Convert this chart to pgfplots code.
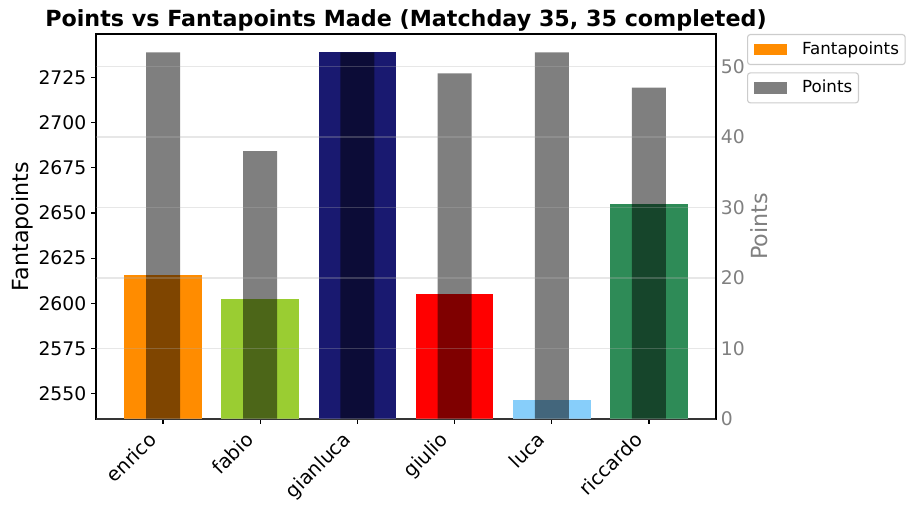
\documentclass[border=0pt]{standalone}
\usepackage{fontspec}
\setmainfont{DejaVu Sans}
\usepackage{pgfplots}
\pgfplotsset{compat=1.18}
\definecolor{darkorange}{HTML}{FF8C00}
\definecolor{yellowgreen}{HTML}{9ACD32}
\definecolor{midnightblue}{HTML}{191970}
\definecolor{mplred}{HTML}{FF0000}
\definecolor{lightskyblue}{HTML}{87CEFA}
\definecolor{seagreen}{HTML}{2E8B57}
\definecolor{gridgray}{HTML}{B0B0B0}
\definecolor{labelgray}{HTML}{808080}
\definecolor{legendedge}{HTML}{CCCCCC}

\pgfplotsset{
  base/.style={
    scale only axis, width=446.4pt, height=277.2pt,
    xmin=-0.69, xmax=5.69,
    /pgf/number format/assume math mode=true,
    /pgf/number format/1000 sep={},
    tick style={line width=0.8pt, black},
    major tick length=3.5pt, tick align=outside,
    axis line style={line width=0.8pt},
    ticklabel style={font=\fontsize{13.5}{16}\selectfont},
    label style={font=\fontsize{16}{19}\selectfont},
    legend image code/.code={\fill[##1, sharp corners] (0pt,-4.2pt) rectangle (24pt,4.2pt);},
    legend style={font=\fontsize{12}{14}\selectfont, draw=legendedge,
      line width=0.8pt, rounded corners=2pt, fill=white,
      inner xsep=4.5pt, inner ysep=5pt, column sep=10.8pt, anchor=north west,
      nodes={inner sep=0pt, text height=9pt, text depth=2.6pt}},
  },
}

\begin{document}
\begin{tikzpicture}
  % left axis: fantapoints
  \begin{axis}[base,
      ymin=2536, ymax=2749, ytick={2550,2575,...,2725},
      xtick={0,...,5}, xticklabels={enrico,fabio,gianluca,giulio,luca,riccardo},
      xtick pos=bottom, ytick pos=left,
      xticklabel style={xshift=-11.5pt, rotate=45, anchor=north east, font=\fontsize{14}{16}\selectfont},
      ylabel={Fantapoints},
      ylabel style={at={(axis description cs:-0.119,0.5)}, anchor=center},
      title={Points vs Fantapoints Made (Matchday 35, 35 completed)},
      every axis title shift=0pt,
      title style={at={(axis description cs:0.5,1)}, anchor=south, yshift=1.5pt,
        inner sep=0pt, font=\bfseries\fontsize{16}{19}\selectfont},
      legend style={at={(1.05,1)}}]
    \addplot[ybar, bar width=0.8, bar shift=0pt, fill=darkorange, draw=none] coordinates {(0,2615.5)};
    \addlegendentry{Fantapoints}
    \addplot[ybar, bar width=0.8, bar shift=0pt, fill=yellowgreen, draw=none] coordinates {(1,2602.2)};
    \addplot[ybar, bar width=0.8, bar shift=0pt, fill=midnightblue, draw=none] coordinates {(2,2739)};
    \addplot[ybar, bar width=0.8, bar shift=0pt, fill=mplred, draw=none] coordinates {(3,2605)};
    \addplot[ybar, bar width=0.8, bar shift=0pt, fill=lightskyblue, draw=none] coordinates {(4,2546.3)};
    \addplot[ybar, bar width=0.8, bar shift=0pt, fill=seagreen, draw=none] coordinates {(5,2654.8)};
  \end{axis}
  % right axis: points
  \begin{axis}[base,
      ymin=0, ymax=54.6, ytick={0,10,...,50},
      axis y line*=right, axis x line=none,
      major tick length=0pt, axis on top,
      ymajorgrids, grid style={color=gridgray, opacity=0.3, line width=0.8pt},
      yticklabel style={color=labelgray},
      ylabel={Points}, ylabel style={color=labelgray,
        at={(axis description cs:1.0694,0.5)}, anchor=center},
      legend style={at={(1.05,0.9005)}}]
    \addplot[ybar, bar width=0.35, bar shift=0pt, fill=black, fill opacity=0.5, draw=none]
      coordinates {(0,52)(1,38)(2,52)(3,49)(4,52)(5,47)};
    \addlegendentry{Points}
  \end{axis}
  \pgfresetboundingbox
  \useasboundingbox (-69.12pt,-65.52pt) rectangle (587.52pt,301.68pt);
\end{tikzpicture}
\end{document}
